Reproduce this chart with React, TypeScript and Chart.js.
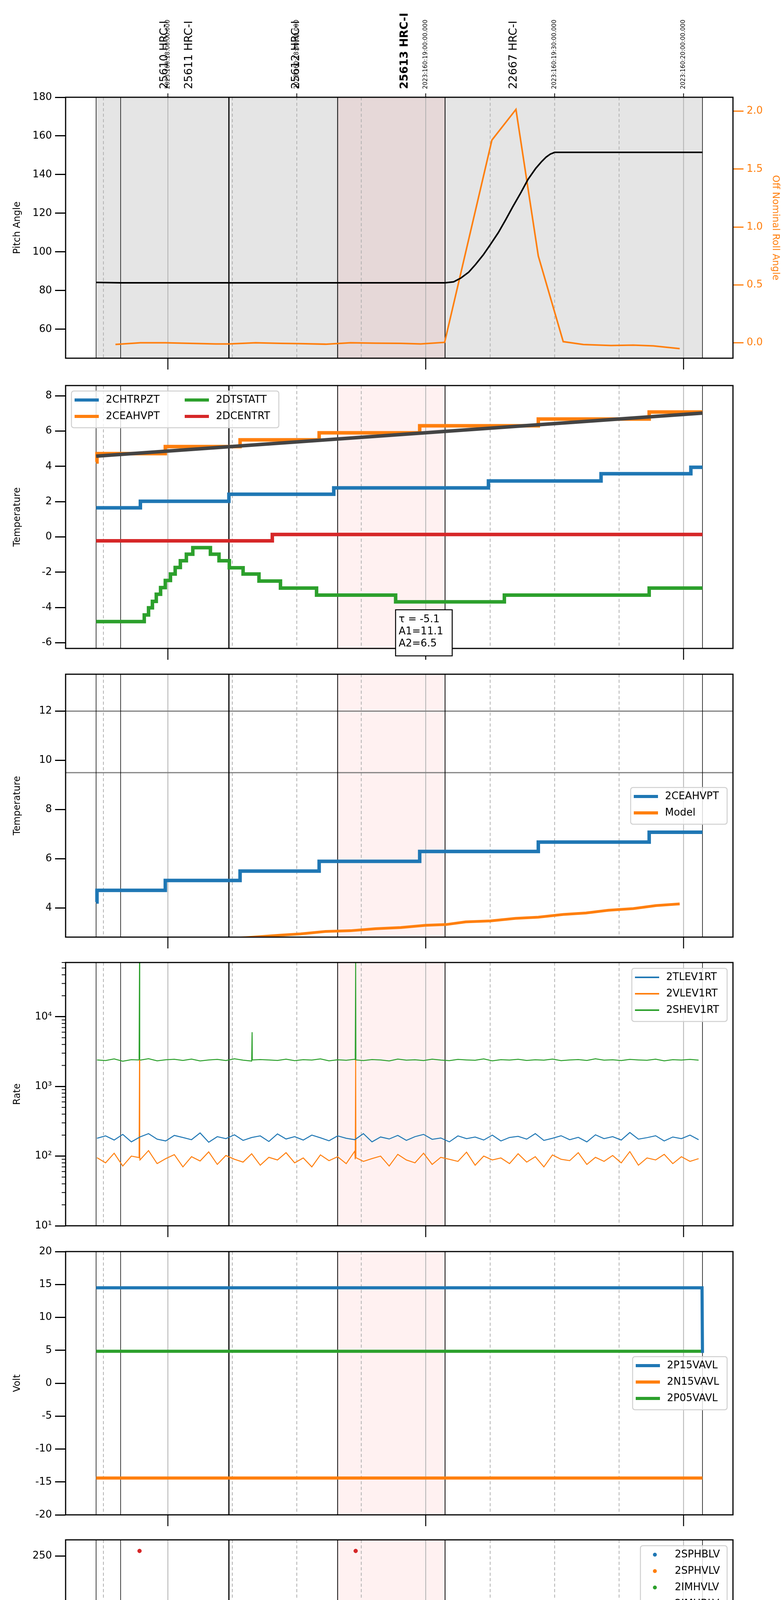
import { useEffect, useRef } from "react"
import { Chart, registerables } from "chart.js"

Chart.register(...registerables)
Chart.defaults.font.family = "'DejaVu Sans', sans-serif"
Chart.defaults.color = "#000"

const BLUE = "#1f77b4"
const ORANGE = "#ff7f0e"
const GREEN = "#2ca02c"
const RED = "#d62728"

// time axis: minutes after 13:00 on 2023-06-09
const X_MIN = 36.2
const X_MAX = 191.5
const minorTimes = [45, 75, 90, 105, 135, 150, 165]
const hourTimes = [60, 120, 180]
const hourLabels = ["14h", "15h", "16h"]
const minorLabels = ["45", "15", "30", "45", "15", "30", "45"]
const eventTimes = [43.3, 49.0, 74.2, 99.5, 124.5, 184.4]
const eventWidths = [1.5, 1.5, 3, 2, 2, 1.5]
const pinkRange = [99.5, 124.5]
const obsidLabels = ["25610 HRC-I", "25611 HRC-I", "25612 HRC-I", "25613 HRC-I", "22667 HRC-I"]
const obsidTimes = [59.3, 65.0, 89.9, 115.1, 140.5]
const stampLabels = ["2023:160:18:00:00.000", "2023:160:18:30:00.000", "2023:160:19:00:00.000", "2023:160:19:30:00.000", "2023:160:20:00:00.000"]
const stampTimes = [60, 90, 120, 150, 180]

// panel 1: pitch / roll
const pitchT = [43.3, 49, 124.5, 126.5, 128.2, 130, 131.6, 133.4, 135.1, 136.9, 138.6, 140.3, 142.1, 143.8, 145.6, 147, 148, 149, 150, 184.4]
const pitchV = [84.2, 84.0, 84.0, 84.5, 86.5, 89.5, 93.5, 98.5, 104, 110, 116.6, 123.5, 130.5, 137.5, 143.2, 146.8, 149, 150.6, 151.5, 151.5]
const rollT = [47.8, 53.6, 59.4, 65.2, 71.1, 74.2, 80.4, 86.2, 90.9, 96.7, 102.5, 108.3, 114.2, 118.8, 124.4, 135.4, 141, 146.2, 152, 156.7, 163.1, 168.3, 173, 179.1]
const rollV = [-0.014, 0.0, 0.0, -0.005, -0.01, -0.01, 0.0, -0.005, -0.007, -0.012, 0.0, -0.003, -0.005, -0.01, 0.004, 1.75, 2.015, 0.75, 0.01, -0.015, -0.023, -0.02, -0.027, -0.05]

// panel 2: temperatures
const chtrT = [43.3, 53.6, 74.2, 98.6, 134.6, 160.8, 181.7, 184.4]
const chtrV = [1.65, 2.02, 2.42, 2.78, 3.17, 3.58, 3.95, 3.95]
const ceahT = [43.3, 43.5, 59.4, 76.8, 95.2, 118.6, 146.2, 172.0, 184.4]
const ceahV = [4.25, 4.72, 5.12, 5.5, 5.9, 6.3, 6.68, 7.08, 7.08]
const fitT = [43.3, 184.4]
const fitV = [4.58, 7.02]
const dcentT = [43.3, 84.3, 184.4]
const dcentV = [-0.22, 0.14, 0.14]
const dtstT = [43.3, 54.5, 55.5, 56.4, 57.3, 58.3, 59.4, 60.6, 61.7, 62.9, 64.3, 65.8, 69.9, 71.9, 74.3, 77.5, 81.2, 86.2, 94.6, 113.0, 138.3, 172.0, 184.4]
const dtstV = [-4.8, -4.42, -4.02, -3.65, -3.25, -2.87, -2.47, -2.1, -1.73, -1.35, -0.98, -0.61, -0.98, -1.35, -1.75, -2.1, -2.5, -2.9, -3.3, -3.68, -3.3, -2.9, -2.9]

// panel 3: model
const modelT = [76.9, 86.2, 90.9, 96.7, 102.5, 108.3, 114.2, 120, 124.7, 129.3, 135.1, 140.9, 146.2, 152, 157.3, 162.5, 168.3, 173.6, 179.1]
const modelV = [2.78, 2.9, 2.95, 3.05, 3.08, 3.16, 3.21, 3.3, 3.33, 3.44, 3.48, 3.58, 3.63, 3.74, 3.8, 3.91, 3.98, 4.1, 4.17]
const limitLines = [12, 9.5]

// panel 4: rates
const rateT = [43.5, 45.5, 47.5, 49.5, 51.5, 53.5, 55.5, 57.5, 59.5, 61.5, 63.5, 65.5, 67.5, 69.5, 71.5, 73.5, 75.5, 77.5, 79.5, 81.5, 83.5, 85.5, 87.5, 89.5, 91.5, 93.5, 95.5, 97.5, 99.5, 101.5, 103.5, 105.5, 107.5, 109.5, 111.5, 113.5, 115.5, 117.5, 119.5, 121.5, 123.5, 125.5, 127.5, 129.5, 131.5, 133.5, 135.5, 137.5, 139.5, 141.5, 143.5, 145.5, 147.5, 149.5, 151.5, 153.5, 155.5, 157.5, 159.5, 161.5, 163.5, 165.5, 167.5, 169.5, 171.5, 173.5, 175.5, 177.5, 179.5, 181.5, 183.5]
const tlevV = [180, 195, 170, 205, 160, 188, 210, 175, 165, 198, 185, 172, 215, 158, 190, 178, 202, 168, 185, 195, 162, 208, 176, 190, 170, 200, 183, 166, 195, 180, 172, 210, 160, 188, 176, 198, 168, 190, 205, 174, 182, 160, 195, 178, 188, 170, 200, 165, 185, 192, 175, 210, 168, 180, 196, 172, 186, 160, 202, 178, 190, 170, 218, 175, 184, 196, 165, 188, 178, 200, 172]
const vlevV = [95, 80, 110, 72, 100, 88, 120, 78, 92, 105, 70, 98, 85, 115, 76, 102, 90, 82, 108, 74, 96, 88, 112, 80, 94, 70, 104, 86, 98, 78, 118, 84, 92, 100, 72, 106, 88, 80, 110, 76, 96, 90, 84, 114, 74, 100, 88, 94, 78, 108, 82, 98, 70, 104, 90, 86, 112, 76, 96, 84, 102, 80, 116, 74, 94, 88, 106, 78, 98, 84, 92]
const shevV = [2400, 2350, 2480, 2300, 2420, 2380, 2500, 2330, 2410, 2450, 2360, 2470, 2320, 2400, 2440, 2350, 2490, 2380, 2310, 2430, 2400, 2360, 2460, 2340, 2420, 2390, 2480, 2330, 2410, 2370, 2450, 2350, 2430, 2400, 2320, 2470, 2380, 2410, 2350, 2460, 2390, 2340, 2440, 2400, 2370, 2480, 2330, 2420, 2390, 2450, 2360, 2410, 2380, 2470, 2340, 2400, 2430, 2360, 2490, 2380, 2410, 2350, 2440, 2400, 2370, 2460, 2330, 2420, 2390, 2440, 2380]
const vlevSpikeT = [53.3, 53.4, 53.45, 103.6, 103.7, 103.75]
const vlevSpikeV = [95, 2400, 100, 90, 2400, 95]
const shevSpikeT = [53.3, 53.4, 53.45, 79.5, 79.6, 79.65, 103.6, 103.7, 103.75]
const shevSpikeV = [2400, 60000, 2380, 2400, 6000, 2400, 2420, 60000, 2400]

// panel 5: voltages
const p15T = [43.3, 184.3, 184.4]
const p15V = [14.5, 14.5, 4.6]
const n15T = [43.3, 184.4]
const n15V = [-14.4, -14.4]
const p05T = [43.3, 184.4]
const p05V = [4.85, 4.85]

// panel 6: HV monitor
const imhbT = [43.3, 184.4]
const imhbV = [86, 86]
const imhbSpikeT = [53.4, 103.7]
const imhbSpikeV = [255, 255]
const imhvT = [43.3, 48, 53, 58, 63, 68, 73, 78, 83, 88, 93, 98, 103, 108, 113, 118, 123, 128, 133, 138, 143, 148, 153, 158, 163, 168, 173, 178, 184.4]
const imhvV = [79.4, 79.8, 79.3, 79.9, 79.5, 79.2, 79.8, 79.4, 79.9, 79.3, 79.6, 79.8, 79.2, 79.7, 79.5, 79.9, 79.3, 79.6, 79.4, 79.8, 79.3, 79.7, 79.5, 79.9, 79.4, 79.6, 79.8, 79.3, 79.5]

// panel 7: detector temps
const spinT = [43.3, 54.8, 55.7, 56.6, 57.6, 58.5, 59.4, 60.6, 61.7, 63.1, 64.7, 66.2, 68.4, 70.4, 72.2, 74.3, 76.9, 80.4, 84.6, 90.4, 98.8, 115.1, 184.4]
const spinV = [2.38, 2.82, 3.27, 3.72, 4.17, 4.62, 5.07, 5.58, 6.07, 6.55, 7.0, 7.47, 7.0, 6.55, 6.07, 5.58, 5.07, 4.62, 4.17, 3.72, 3.27, 2.82, 2.82]
const sphvT = [43.3, 61.6, 82.8, 101.9, 121.7, 144.5, 168, 184.4]
const sphvV = [13.55, 13.9, 14.15, 14.45, 14.7, 15.0, 15.25, 15.25]
const iminT = [43.3, 88.1, 169.9, 184.4]
const iminV = [0.62, 1.08, 1.5, 1.5]
const imhvaT = [43.3, 43.5, 49.5, 53.35, 53.4, 53.5, 56, 62.8, 70.7, 79.8, 81.5, 81.7, 89.5, 100.5, 103.65, 103.7, 103.75, 113.2, 128.4, 135.4, 135.6, 146, 147, 147.2, 165.4, 184.4]
const imhvaV = [13.2, 13.6, 13.9, 13.9, -2, 13.9, 14.15, 14.45, 14.7, 15.0, 14.7, 15.0, 15.25, 15.55, 15.55, -2, 15.55, 15.8, 16.1, 15.8, 16.1, 16.35, 16.1, 16.35, 16.65, 16.65]

// panel 8: FEA temps
const fhtrT = [43.3, 46, 55.9, 56.8, 57.0, 65, 74.1, 83, 92.6, 102.2, 112.5, 123.3, 134.3, 145.2, 154.7, 163.8, 172.2, 180.9, 184.4]
const fhtrV = [-8.4, -8.0, -7.6, -6.8, -7.6, -7.18, -6.78, -6.38, -5.98, -5.58, -5.2, -4.8, -4.4, -4.02, -3.62, -3.25, -2.88, -2.5, -2.5]
const fradT = [43.3, 50.6, 62.4, 73.5, 83.9, 94.8, 106, 117.9, 129.9, 140.6, 147.5, 153.4, 159.3, 165.4, 172.1, 179.1, 184.4]
const fradV = [-10.5, -10.05, -9.65, -9.22, -8.8, -8.38, -7.95, -7.58, -7.18, -6.78, -6.38, -5.98, -5.58, -5.2, -4.8, -4.42, -4.42]
const fepraT = [43.3, 47.1, 53.4, 60.3, 68.3, 76.7, 85.6, 95.2, 105.3, 115.7, 127.1, 139.2, 151.1, 162.6, 173.9, 184.4]
const fepraV = [-5.42, -5.02, -4.62, -4.22, -3.82, -3.42, -3.03, -2.63, -2.22, -1.82, -1.42, -1.02, -0.62, -0.2, 0.2, 0.2]
const fe00T = [43.3, 43.4, 46.0, 52.4, 53.4, 53.5, 54.9, 55.1, 58.8, 60.8, 61.0, 65.6, 72.2, 79.2, 82.5, 82.7, 86.4, 92.3, 92.5, 94.0, 101.9, 103.7, 103.8, 109.9, 117.4, 117.6, 118.0, 120.6, 120.8, 123.8, 124.0, 126.5, 126.7, 126.8, 135.8, 144.5, 150.4, 150.6, 153.0, 159.7, 167.5, 167.7, 169.2, 169.4, 173.9, 180.3, 180.5, 180.6, 184.4]
const fe00V = [-6.8, -6.0, -5.62, -5.25, -12, -5.25, -6.0, -5.25, -4.9, -4.2, -4.9, -4.55, -4.2, -3.82, -4.9, -3.82, -3.48, -2.8, -3.48, -3.12, -2.78, -12, -2.78, -2.42, -2.8, -2.42, -2.1, -2.5, -2.1, -3.5, -2.1, -2.5, -2.1, -1.78, -1.45, -1.12, -2.15, -1.12, -0.78, -0.45, 0.2, -0.15, -0.5, -0.15, 0.15, -0.2, 0.15, 0.45, 0.45]

const pts = (t: number[], v: number[]) => t.map((x, i) => ({ x, y: v[i] }))
const sorted = (a: { x: number; y: number }[]) => [...a].sort((p, q) => p.x - q.x)

const step = (label: string, color: string, t: number[], v: number[], w = 9) => ({
  label, data: pts(t, v), borderColor: color, backgroundColor: color,
  borderWidth: w, pointRadius: 0, stepped: true, fill: false,
})
const plain = (label: string, color: string, data: any[], w = 4) => ({
  label, data, borderColor: color, backgroundColor: color, borderWidth: w, pointRadius: 0, fill: false,
})

const LEFT = 168
const RIGHT = 1877

const decor = {
  id: "decor",
  beforeDatasetsDraw(chart: any, _a: any, o: any) {
    const { ctx, chartArea: ca, scales } = chart
    const xs = scales.x
    ctx.save()
    ctx.beginPath()
    ctx.rect(ca.left, ca.top, ca.width, ca.height)
    ctx.clip()
    if (o.gray) {
      ctx.fillStyle = "#e5e5e5"
      ctx.fillRect(xs.getPixelForValue(43.3), ca.top, xs.getPixelForValue(184.4) - xs.getPixelForValue(43.3), ca.height)
    }
    ctx.fillStyle = "rgba(255,0,0,0.055)"
    const p0 = xs.getPixelForValue(pinkRange[0])
    ctx.fillRect(p0, ca.top, xs.getPixelForValue(pinkRange[1]) - p0, ca.height)
    ctx.strokeStyle = "#b0b0b0"
    ctx.lineWidth = 2
    ctx.setLineDash([8, 6])
    minorTimes.forEach((t) => {
      const x = xs.getPixelForValue(t)
      ctx.beginPath(); ctx.moveTo(x, ca.top); ctx.lineTo(x, ca.bottom); ctx.stroke()
    })
    ctx.setLineDash([])
    hourTimes.forEach((t) => {
      const x = xs.getPixelForValue(t)
      ctx.beginPath(); ctx.moveTo(x, ca.top); ctx.lineTo(x, ca.bottom); ctx.stroke()
    })
    if (o.hlines) {
      ctx.strokeStyle = "#808080"
      ctx.lineWidth = 3
      o.hlines.forEach((v: number) => {
        const y = scales.y.getPixelForValue(v)
        ctx.beginPath(); ctx.moveTo(ca.left, y); ctx.lineTo(ca.right, y); ctx.stroke()
      })
    }
    ctx.strokeStyle = "#000"
    eventTimes.forEach((t, i) => {
      const x = xs.getPixelForValue(t)
      ctx.lineWidth = eventWidths[i]
      ctx.beginPath(); ctx.moveTo(x, ca.top); ctx.lineTo(x, ca.bottom); ctx.stroke()
    })
    ctx.restore()
  },
  afterDraw(chart: any, _a: any, o: any) {
    const { ctx, chartArea: ca, scales } = chart
    const xs = scales.x
    const top = o.canvasTop
    ctx.save()
    ctx.strokeStyle = "#000"
    ctx.lineWidth = 3
    ctx.strokeRect(ca.left, ca.top, ca.width, ca.height)
    ctx.lineWidth = 2.5
    hourTimes.forEach((t) => {
      const x = xs.getPixelForValue(t)
      ctx.beginPath(); ctx.moveTo(x, ca.bottom); ctx.lineTo(x, ca.bottom + 29); ctx.stroke()
    })
    if (o.logMinor) {
      const ys = scales.y
      ctx.lineWidth = 2
      for (let k = 1; k <= 4; k++) {
        for (let m = 2; m <= 9; m++) {
          const v = m * Math.pow(10, k)
          if (v > ys.max) continue
          const y = ys.getPixelForValue(v)
          ctx.beginPath(); ctx.moveTo(ca.left, y); ctx.lineTo(ca.left - 10, y); ctx.stroke()
        }
      }
    }
    if (o.topLabels) {
      ctx.fillStyle = "#000"
      stampTimes.forEach((t, i) => {
        const x = xs.getPixelForValue(t)
        ctx.lineWidth = 2
        ctx.beginPath(); ctx.moveTo(x, ca.top); ctx.lineTo(x, ca.top - 10); ctx.stroke()
        ctx.save(); ctx.translate(x, 228); ctx.rotate(-Math.PI / 2)
        ctx.font = "15px 'DejaVu Sans'"; ctx.textAlign = "left"; ctx.textBaseline = "middle"
        ctx.fillText(stampLabels[i], 0, 0); ctx.restore()
      })
      obsidTimes.forEach((t, i) => {
        const x = xs.getPixelForValue(t)
        ctx.save(); ctx.translate(x, 228); ctx.rotate(-Math.PI / 2)
        ctx.font = (i === 3 ? "bold " : "") + "28px 'DejaVu Sans'"
        ctx.textAlign = "left"; ctx.textBaseline = "middle"
        ctx.fillText(obsidLabels[i], 0, 0); ctx.restore()
      })
    }
    if (o.bottomAxis) {
      ctx.fillStyle = "#000"
      ctx.textAlign = "center"; ctx.textBaseline = "middle"
      ctx.font = "18px 'DejaVu Sans'"
      minorTimes.forEach((t, i) => ctx.fillText(minorLabels[i], xs.getPixelForValue(t), ca.bottom + 16))
      ctx.font = "28px 'DejaVu Sans'"
      hourTimes.forEach((t, i) => ctx.fillText(hourLabels[i], xs.getPixelForValue(t), ca.bottom + 50))
      ctx.fillText("2023-06-09 (160)", (ca.left + ca.right) / 2, ca.bottom + 90)
    }
    if (o.annot) {
      const a = o.annot
      ctx.fillStyle = "#fff"
      ctx.fillRect(a.x, a.y - top, a.w, a.h)
      ctx.lineWidth = 2.5
      ctx.strokeRect(a.x, a.y - top, a.w, a.h)
      ctx.fillStyle = "#000"
      ctx.font = "26px 'DejaVu Sans'"; ctx.textAlign = "left"; ctx.textBaseline = "middle"
      a.lines.forEach((s: string, i: number) => ctx.fillText(s, a.x + 8, a.y - top + 25 + i * 31))
    }
    if (o.legend) {
      const L = o.legend
      const items = chart.data.datasets.filter((d: any) => d.inLegend)
      const rows = Math.ceil(items.length / L.cols)
      const h = rows * 42 + 10
      const bx = L.x, by = L.y - top
      ctx.fillStyle = "rgba(255,255,255,0.8)"
      ctx.strokeStyle = "#d0d0d0"
      ctx.lineWidth = 2.5
      ctx.beginPath()
      ctx.roundRect(bx, by, L.w, h, 6)
      ctx.fill(); ctx.stroke()
      ctx.font = "26px 'DejaVu Sans'"; ctx.textAlign = "left"; ctx.textBaseline = "middle"
      items.forEach((d: any, i: number) => {
        const c = Math.floor(i / rows), r = i % rows
        const x0 = bx + c * (L.colW || 0)
        const y = by + 23 + r * 42
        if (d.legendPoint) {
          ctx.fillStyle = d.borderColor
          ctx.beginPath(); ctx.arc(x0 + 37, y, 5, 0, Math.PI * 2); ctx.fill()
        } else {
          ctx.strokeStyle = d.borderColor
          ctx.lineWidth = L.lw || 8
          ctx.beginPath(); ctx.moveTo(x0 + 8, y); ctx.lineTo(x0 + 70, y); ctx.stroke()
        }
        ctx.fillStyle = "#000"
        ctx.fillText(d.label, x0 + 88, y)
      })
    }
    ctx.restore()
  },
}

interface PanelCfg {
  top: number
  h: number
  title: string
  yMin: number
  yMax: number
  ticks: number[]
  fmt?: (v: number) => string
  log?: boolean
  datasets: any[]
  decor: any
  right?: any
  last?: boolean
  first?: boolean
}

function Panel({ cfg }: { cfg: PanelCfg }) {
  const ref = useRef<HTMLCanvasElement>(null)
  const canvasTop = cfg.first ? 0 : cfg.top - 40
  const padTop = cfg.top - canvasTop
  const bottomH = cfg.last ? 6200 - cfg.top - cfg.h : 140
  const canvasH = padTop + cfg.h + bottomH

  useEffect(() => {
    if (!ref.current) return
    const yTicks = (vals: number[], fmt: any, color = "#000") => ({
      afterBuildTicks: (s: any) => { s.ticks = vals.map((v) => ({ value: v })) },
      ticks: { font: { size: 26 }, color, padding: 8, callback: fmt || ((v: any) => String(v)) },
      grid: { display: true, drawOnChartArea: false, drawTicks: true, tickLength: 27, tickWidth: 3, tickColor: color },
      border: { display: false },
    })
    const scales: any = {
      x: {
        type: "linear", min: X_MIN, max: X_MAX,
        ticks: { display: false }, grid: { display: false }, border: { display: false },
        afterFit: (s: any) => { s.height = bottomH },
      },
      y: {
        type: cfg.log ? "logarithmic" : "linear", min: cfg.yMin, max: cfg.yMax, position: "left",
        ...yTicks(cfg.ticks, cfg.fmt),
        title: { display: true, text: cfg.title, font: { size: 24 }, padding: { top: 30, bottom: 0 } },
        afterFit: (s: any) => { s.width = LEFT },
      },
    }
    if (cfg.right) {
      scales.y1 = {
        type: "linear", min: cfg.right.min, max: cfg.right.max, position: "right",
        ...yTicks(cfg.right.ticks, (v: number) => v.toFixed(1), ORANGE),
        title: { display: true, text: cfg.right.title, color: ORANGE, font: { size: 24 }, padding: { top: 0, bottom: 10 } },
        afterFit: (s: any) => { s.width = 2000 - RIGHT },
      }
    }
    const chart = new Chart(ref.current, {
      type: "line",
      data: { datasets: cfg.datasets },
      options: {
        responsive: false,
        animation: false,
        devicePixelRatio: 1,
        layout: { padding: { top: padTop, left: 0, bottom: 0, right: cfg.right ? 0 : 2000 - RIGHT } },
        plugins: { legend: { display: false }, tooltip: { enabled: false }, decor: { ...cfg.decor, canvasTop } } as any,
        scales,
      },
      plugins: [decor],
    })
    return () => chart.destroy()
  }, [])

  return (
    <canvas
      ref={ref}
      width={2000}
      height={canvasH}
      style={{ position: "absolute", left: 0, top: canvasTop, width: 2000, height: canvasH }}
    />
  )
}

export default function App() {
  useEffect(() => {
    document.body.style.margin = "0"
  }, [])

  const leg = (x: number, y: number, w: number, extra: any = {}) => ({ x, y, w, cols: 1, ...extra })

  const panels: PanelCfg[] = [
    {
      first: true, top: 249, h: 668, title: "Pitch Angle", yMin: 45, yMax: 180, ticks: [60, 80, 100, 120, 140, 160, 180],
      right: { min: -0.133, max: 2.12, ticks: [0, 0.5, 1, 1.5, 2], title: "Off Nominal Roll Angle" },
      datasets: [
        plain("Pitch", "#000", pts(pitchT, pitchV), 4),
        { ...plain("Roll", ORANGE, pts(rollT, rollV), 4), yAxisID: "y1" },
      ],
      decor: { gray: true, topLabels: true },
    },
    {
      top: 987, h: 673, title: "Temperature", yMin: -6.32, yMax: 8.58, ticks: [-6, -4, -2, 0, 2, 4, 6, 8],
      datasets: [
        { ...plain("fit", "#444", pts(fitT, fitV), 9) },
        { ...step("2CHTRPZT", BLUE, chtrT, chtrV), inLegend: true },
        { ...step("2CEAHVPT", ORANGE, ceahT, ceahV), inLegend: true },
        { ...step("2DTSTATT", GREEN, dtstT, dtstV), inLegend: true },
        { ...step("2DCENTRT", RED, dcentT, dcentV), inLegend: true },
      ],
      decor: {
        legend: { x: 183, y: 1001, w: 531, cols: 2, colW: 282 },
        annot: { x: 1013, y: 1561, w: 145, h: 118, lines: ["\u03c4 = -5.1", "A1=11.1", "A2=6.5"] },
      },
    },
    {
      top: 1726, h: 673, title: "Temperature", yMin: 2.82, yMax: 13.5, ticks: [4, 6, 8, 10, 12],
      datasets: [
        { ...step("2CEAHVPT", BLUE, ceahT, ceahV), inLegend: true },
        { ...plain("Model", ORANGE, pts(modelT, modelV), 7), inLegend: true },
      ],
      decor: { hlines: limitLines, legend: leg(1615, 2016, 247) },
    },
    {
      top: 2464, h: 674, title: "Rate", yMin: 10, yMax: 60000, log: true, ticks: [10, 100, 1000, 10000],
      fmt: (v: number) => ({ 10: "10\u00b9", 100: "10\u00b2", 1000: "10\u00b3", 10000: "10\u2074" } as any)[v],
      datasets: [
        { ...plain("2TLEV1RT", BLUE, pts(rateT, tlevV), 2.5), inLegend: true },
        { ...plain("2VLEV1RT", ORANGE, sorted([...pts(rateT, vlevV), ...pts(vlevSpikeT, vlevSpikeV)]), 2.5), inLegend: true },
        { ...plain("2SHEV1RT", GREEN, sorted([...pts(rateT, shevV), ...pts(shevSpikeT, shevSpikeV)]), 2.5), inLegend: true },
      ],
      decor: { logMinor: true, legend: leg(1618, 2479, 244, { lw: 4 }) },
    },
    {
      top: 3204, h: 674, title: "Volt", yMin: -20, yMax: 20, ticks: [-20, -15, -10, -5, 0, 5, 10, 15, 20],
      datasets: [
        { ...plain("2P15VAVL", BLUE, pts(p15T, p15V), 8), inLegend: true },
        { ...plain("2N15VAVL", ORANGE, pts(n15T, n15V), 8), inLegend: true },
        { ...plain("2P05VAVL", GREEN, pts(p05T, p05V), 8), inLegend: true },
      ],
      decor: { legend: leg(1620, 3473, 242) },
    },
    {
      top: 3942, h: 675, title: "HV Monitor", yMin: 0, yMax: 266.2, ticks: [0, 50, 100, 150, 200, 250],
      datasets: [
        { ...plain("2SPHBLV", BLUE, [], 12), inLegend: true, legendPoint: true },
        { ...plain("2SPHVLV", ORANGE, [], 12), inLegend: true, legendPoint: true },
        { ...plain("2IMHVLV", GREEN, pts(imhvT, imhvV), 12), borderCapStyle: "round", inLegend: true, legendPoint: true },
        { ...plain("2IMHBLV", RED, pts(imhbT, imhbV), 12), borderCapStyle: "round", inLegend: true, legendPoint: true },
        { label: "spikes", data: pts(imhbSpikeT, imhbSpikeV), showLine: false, pointRadius: 5, backgroundColor: RED, borderColor: RED },
      ],
      decor: { legend: leg(1640, 3957, 222) },
    },
    {
      top: 4682, h: 673, title: "Detector Temp", yMin: -0.83, yMax: 17.88, ticks: [0, 2.5, 5, 7.5, 10, 12.5, 15, 17.5],
      fmt: (v: number) => v.toFixed(1),
      datasets: [
        { ...step("2SPINATM", BLUE, spinT, spinV), inLegend: true },
        { ...step("2SPHVATM", ORANGE, sphvT, sphvV), inLegend: true },
        { ...step("2IMINATM", GREEN, iminT, iminV), inLegend: true },
        { ...step("2IMHVATM", RED, imhvaT, imhvaV), inLegend: true },
      ],
      decor: { legend: leg(1615, 4931, 247) },
    },
    {
      last: true, top: 5421, h: 674, title: "FEA Temp", yMin: -10.73, yMax: 0.48, ticks: [-10, -8, -6, -4, -2, 0],
      datasets: [
        { ...step("2FHTRMZT", BLUE, fhtrT, fhtrV), inLegend: true },
        { ...step("2FRADPYT", ORANGE, fradT, fradV), inLegend: true },
        { ...step("2FEPRATM", GREEN, fepraT, fepraV), inLegend: true },
        { ...step("2FE00ATM", RED, fe00T, fe00V), inLegend: true },
      ],
      decor: { bottomAxis: true, legend: leg(1613, 5904, 249) },
    },
  ]

  return (
    <div style={{ position: "relative", width: 2000, height: 6200, background: "#fff" }}>
      {panels.map((p, i) => (
        <Panel key={i} cfg={p} />
      ))}
    </div>
  )
}
